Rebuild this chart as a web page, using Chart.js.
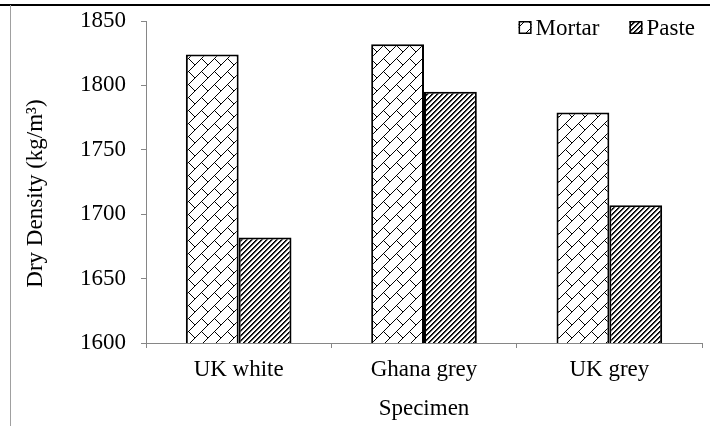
<!DOCTYPE html>
<html>
<head>
<meta charset="utf-8">
<script src="https://cdn.jsdelivr.net/npm/chart.js@4.4.1/dist/chart.umd.min.js"></script>
<style>
  body { margin: 0; background: #fff; }
  #wrap { position: relative; width: 710px; height: 426px; }
  #topRule { position: absolute; left: 0; top: 4px; width: 710px; height: 2px; background: #000; }
  #leftRule { position: absolute; left: 10px; top: 5px; width: 1px; height: 421px; background: #a0a0a0; }
</style>
</head>
<body>
<div id="wrap">
  <canvas id="chart" width="710" height="426"></canvas>
  <div id="topRule"></div>
  <div id="leftRule"></div>
</div>
<script>
const specimens = ["UK white", "Ghana grey", "UK grey"];
const mortarDensity = [1824, 1832, 1779];
const pasteDensity = [1682, 1795, 1707];
const yTicks = [1600, 1650, 1700, 1750, 1800, 1850];

const axisGrey = "#868686";

// diagonal brick fill, like the excel pattern
function brickPattern() {
  const t = 13;
  const c = document.createElement("canvas");
  c.width = t;
  c.height = t;
  const g = c.getContext("2d");
  g.fillStyle = "#fff";
  g.fillRect(0, 0, t, t);
  g.strokeStyle = "#000";
  g.lineWidth = 1;
  for (const ox of [-t, 0, t]) {
    for (const oy of [-t, 0, t]) {
      g.beginPath();
      g.moveTo(ox, oy + t);
      g.lineTo(ox + t, oy);
      g.moveTo(ox + t / 2, oy + t / 2);
      g.lineTo(ox + t, oy + t);
      g.stroke();
    }
  }
  return g.createPattern(c, "repeat");
}

// dark upward diagonal stripes
function stripePattern() {
  const n = 5;
  const c = document.createElement("canvas");
  c.width = n;
  c.height = n;
  const g = c.getContext("2d");
  const img = g.createImageData(n, n);
  const shade = [0, 40, 200, 255, 255];
  for (let y = 0; y < n; y++) {
    for (let x = 0; x < n; x++) {
      const v = shade[(x + y) % n];
      const i = (y * n + x) * 4;
      img.data[i] = v;
      img.data[i + 1] = v;
      img.data[i + 2] = v;
      img.data[i + 3] = 255;
    }
  }
  g.putImageData(img, 0, 0);
  return g.createPattern(c, "repeat");
}

// legend sits inside the plot, top right
const patternLegend = {
  id: "patternLegend",
  afterDraw(chart) {
    const { ctx, chartArea } = chart;
    ctx.save();
    ctx.font = "23px 'Liberation Serif'";
    ctx.textBaseline = "alphabetic";
    let x = chartArea.right - 7;
    const items = chart.data.datasets.slice().reverse();
    for (const ds of items) {
      const w = ctx.measureText(ds.label).width;
      x -= w;
      ctx.fillStyle = "#000";
      ctx.fillText(ds.label, x, chartArea.top + 14);
      x -= 4 + 13;
      ctx.fillStyle = ds.backgroundColor;
      ctx.fillRect(x, chartArea.top, 13, 13);
      ctx.strokeStyle = "#000";
      ctx.lineWidth = 1.5;
      ctx.strokeRect(x + 0.75, chartArea.top + 0.75, 11.5, 11.5);
      x -= 30;
    }
    ctx.restore();
  },
};

Chart.defaults.font.family = "'Liberation Serif', 'Times New Roman', serif";
Chart.defaults.font.size = 23;
Chart.defaults.color = "#000";

new Chart(document.getElementById("chart"), {
  type: "bar",
  data: {
    labels: specimens,
    datasets: [
      {
        label: "Mortar",
        data: mortarDensity,
        backgroundColor: brickPattern(),
        borderColor: "#000",
        borderWidth: 2,
      },
      {
        label: "Paste",
        data: pasteDensity,
        backgroundColor: stripePattern(),
        borderColor: "#000",
        borderWidth: 2,
      },
    ],
  },
  options: {
    responsive: false,
    animation: false,
    layout: { padding: { top: 21, right: 8, left: 0, bottom: 0 } },
    datasets: {
      bar: { categoryPercentage: 0.57, barPercentage: 1 },
    },
    plugins: {
      legend: { display: false },
      tooltip: { enabled: false },
    },
    scales: {
      x: {
        grid: {
          offset: true,
          drawOnChartArea: false,
          tickLength: 5,
          color: axisGrey,
        },
        border: { color: axisGrey, width: 1 },
        ticks: { padding: 8 },
        title: {
          display: true,
          text: "Specimen",
          padding: { top: 0, bottom: 3 },
        },
        afterFit(scale) {
          scale.height = 83;
          scale.paddingLeft = 0;
          scale.paddingRight = 0;
        },
      },
      y: {
        min: yTicks[0],
        max: yTicks[yTicks.length - 1],
        ticks: {
          stepSize: yTicks[1] - yTicks[0],
          padding: 15,
          callback: (v) => String(v),
        },
        grid: {
          drawOnChartArea: false,
          tickLength: 5,
          color: axisGrey,
        },
        border: { color: axisGrey, width: 1 },
        title: {
          display: true,
          text: "Dry Density (kg/m³)    ",
          padding: { top: 22, bottom: 0 },
        },
        afterFit(scale) {
          scale.width = 146;
          scale.paddingTop = 0;
          scale.paddingBottom = 0;
        },
      },
    },
  },
  plugins: [patternLegend],
});
</script>
</body>
</html>
